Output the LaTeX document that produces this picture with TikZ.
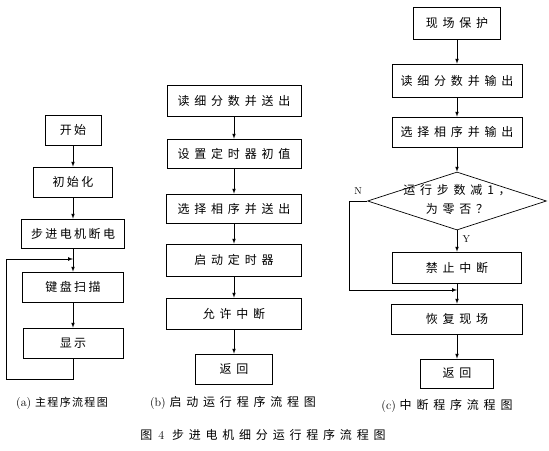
\documentclass[tikz,border=0pt]{standalone}
\usepackage{fontspec}
\newfontfamily\cjk[LetterSpace=40]{Noto Sans CJK SC}
\newfontfamily\cjka[LetterSpace=20]{Noto Sans CJK SC}
\newfontfamily\cjkcap[LetterSpace=12]{Noto Sans CJK SC}
\usetikzlibrary{shapes.geometric}
\usetikzlibrary{arrows.meta}
\tikzset{>=latex}
\tikzset{
  box/.style={draw, line width=0.7pt, inner sep=0pt, minimum height=30pt,
    font=\cjk\fontsize{12}{14}\selectfont},
  boxa/.style={box, font=\cjka\fontsize{12}{14}\selectfont},
  flow/.style={->, line width=0.7pt},
  figcap/.style={inner sep=0pt, font=\fontsize{12}{14}\selectfont}
}

\begin{document}
\begin{tikzpicture}[x=1pt, y=-1pt]
    \useasboundingbox (0,0) rectangle (549,450);

    \def\xa{73};
    \def\xb{234};
    \def\xc{457};

    % (a) main program
    \node[boxa, minimum width=56pt] (start) at (\xa,130) {开始};
    \node[boxa, minimum width=79pt] (init) at (\xa,182) {初始化};
    \node[boxa, minimum width=103pt, minimum height=29pt] (off) at (\xa,233.5) {步进电机断电};
    \node[boxa, minimum width=101pt] (scan) at (\xa,287) {键盘扫描};
    \node[boxa, minimum width=100pt] (show) at (\xa,343) {显示};
    \coordinate (aj) at (\xa,259);
    \coordinate (aloop) at (6,379);
    \draw[flow] (start) -- (init);
    \draw[flow] (init) -- (off);
    \draw[flow] (off) -- (scan);
    \draw[flow] (scan) -- (show);
    \draw[flow] (show.south) |- (aloop) |- (aj);
    \node[figcap] (capa) at (62,403) {(a)\ {\cjkcap\fontsize{11}{13}\selectfont 主程序流程图}};

    % (b) start-up
    \node[box, minimum width=134pt, minimum height=31pt] (read) at (\xb,100.5) {读细分数并送出};
    \node[box, minimum width=134pt, minimum height=29pt] (timer) at (\xb,153.5) {设置定时器初值};
    \node[box, minimum width=135pt, minimum height=29pt] (phase) at (\xb,208.5) {选择相序并送出};
    \node[box, minimum width=135pt, minimum height=32pt] (run) at (\xb,260) {启动定时器};
    \node[box, minimum width=135pt, minimum height=31pt] (allow) at (\xb,313.5) {允许中断};
    \node[box, minimum width=77pt] (retb) at (\xb,369) {返回};
    \draw[flow] (read) -- (timer);
    \draw[flow] (timer) -- (phase);
    \draw[flow] (phase) -- (run);
    \draw[flow] (run) -- (allow);
    \draw[flow] (allow) -- (retb);
    \node[figcap] (capb) at (233,403) {(b)\ {\cjk 启动运行程序流程图}};

    % (c) interrupt
    \node[box, minimum width=87pt, minimum height=32pt] (save) at (\xc,23) {现场保护};
    \node[box, minimum width=130pt, minimum height=33pt] (readc) at (\xc,80.5) {读细分数并输出};
    \node[box, minimum width=130pt] (phasec) at (\xc,132) {选择相序并输出};
    \node[draw, line width=0.7pt, shape=diamond, aspect=1, inner sep=0pt,
      minimum width=179pt, minimum height=58pt, font=\cjk\fontsize{12}{14}\selectfont]
      (test) at (\xc,201) {\makebox[0pt]{\begin{tabular}{@{}c@{}}运行步数减1，\\[4pt]为零否？\end{tabular}}};
    \node[box, minimum width=129pt, minimum height=31pt] (stop) at (\xc,267.5) {禁止中断};
    \node[box, minimum width=131pt] (back) at (\xc,319) {恢复现场};
    \node[box, minimum width=73pt, minimum height=29pt] (retc) at (\xc,373.5) {返回};
    \coordinate (cj) at (\xc,290);
    \coordinate (cn) at (349,290);
    \draw[flow] (save) -- (readc);
    \draw[flow] (readc) -- (phasec);
    \draw[flow] (phasec) -- (test);
    \draw[flow] (test) -- (stop) node [pos=0.4, right, xshift=2pt] {Y};
    \draw[flow] (stop) -- (back);
    \draw[flow] (back) -- (retc);
    \draw[flow] (test.west) -| (cn) -- (cj);
    \node[inner sep=0pt] (nlab) at (358,191) {N};
    \node[figcap] (capc) at (447,406) {(c)\ {\cjk 中断程序流程图}};

    \node[figcap] (title) at (263,435) {{\cjk 图}\ \,4\ \ {\cjk 步进电机细分运行程序流程图}};
\end{tikzpicture}
\end{document}
